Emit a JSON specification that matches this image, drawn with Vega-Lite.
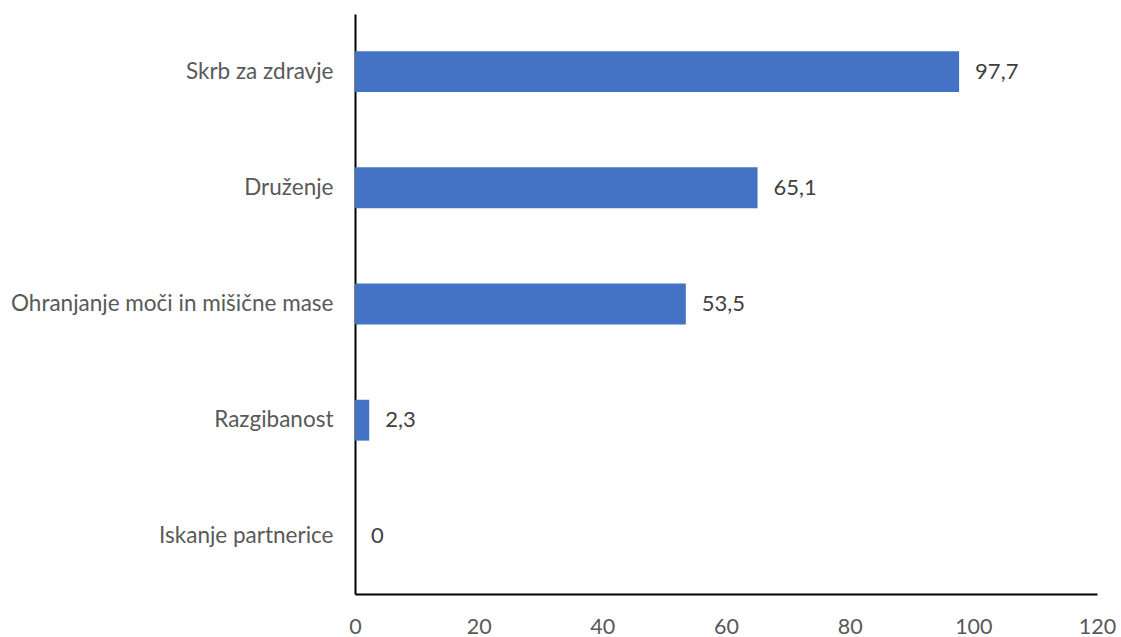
{
  "$schema": "https://vega.github.io/schema/vega-lite/v6.json",
  "width": 742,
  "height": 580,
  "autosize": {"type": "none"},
  "padding": {"left": 355, "top": 14, "right": 24, "bottom": 43},
  "background": "white",
  "config": {
    "view": {"stroke": null},
    "locale": {
      "number": {"decimal": ",", "thousands": ".", "grouping": [3], "currency": ["", " €"]}
    },
    "font": "Lato"
  },
  "data": {
    "values": [
      {"kategorija": "Skrb za zdravje", "delez": 97.7},
      {"kategorija": "Druženje", "delez": 65.1},
      {"kategorija": "Ohranjanje moči in mišične mase", "delez": 53.5},
      {"kategorija": "Razgibanost", "delez": 2.3},
      {"kategorija": "Iskanje partnerice", "delez": 0}
    ]
  },
  "encoding": {
    "y": {
      "field": "kategorija",
      "type": "nominal",
      "sort": null,
      "scale": {"paddingInner": 0.648, "paddingOuter": 0.32},
      "axis": {
        "title": null,
        "ticks": false,
        "domainColor": "#000000",
        "domainWidth": 2,
        "labelFont": "Lato",
        "labelFontSize": 22.5,
        "labelColor": "#595959",
        "labelPadding": 22,
        "labelLimit": 0
      }
    },
    "x": {
      "field": "delez",
      "type": "quantitative",
      "scale": {"domain": [0, 120], "nice": false},
      "axis": {
        "title": null,
        "values": [0, 20, 40, 60, 80, 100, 120],
        "grid": false,
        "ticks": false,
        "domainColor": "#000000",
        "domainWidth": 2,
        "labelFont": "Lato",
        "labelFontSize": 21.5,
        "labelColor": "#595959",
        "labelPadding": 22,
        "labelFlush": false
      }
    }
  },
  "layer": [
    {"mark": {"type": "bar", "color": "#4472C4"}},
    {
      "mark": {
        "type": "text",
        "align": "left",
        "baseline": "middle",
        "dx": 16,
        "font": "Lato",
        "fontSize": 22,
        "color": "#404040"
      },
      "encoding": {"text": {"field": "delez", "type": "quantitative", "format": ".1~f"}}
    }
  ]
}
